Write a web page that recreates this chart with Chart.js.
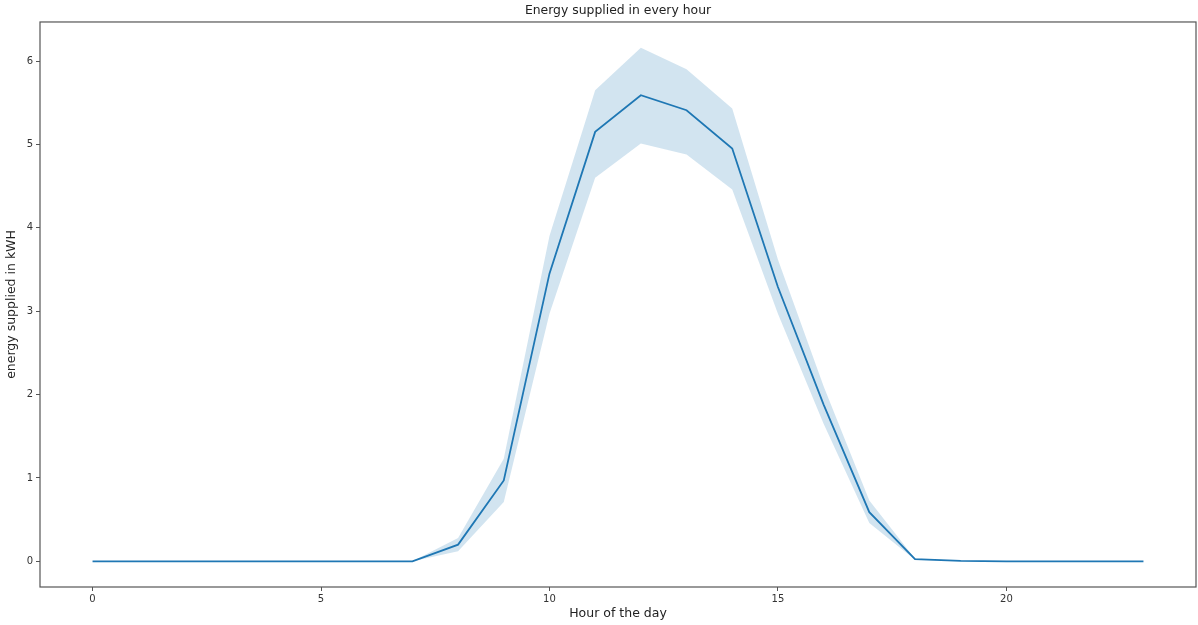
<!DOCTYPE html>
<html>
<head>
<meta charset="utf-8">
<title>Energy supplied in every hour</title>
<script src="https://cdn.jsdelivr.net/npm/chart.js@4.4.1/dist/chart.umd.min.js"></script>
<style>
  html, body { margin: 0; padding: 0; background: #fff; }
  #wrap { width: 1198px; height: 625px; }
</style>
</head>
<body>
<div id="wrap"><canvas id="chart" width="1198" height="625"></canvas></div>
<script>
// hourly mean energy with its confidence band (upper / lower)
const hours = [0, 1, 2, 3, 4, 5, 6, 7, 8, 9, 10, 11, 12, 13, 14, 15, 16, 17, 18, 19, 20, 21, 22, 23];
const meanKwh = [0, 0, 0, 0, 0, 0, 0, 0, 0.20, 0.97, 3.45, 5.15, 5.59, 5.41, 4.95, 3.29, 1.88, 0.59, 0.025, 0.005, 0, 0, 0, 0];
const upperKwh = [0, 0, 0, 0, 0, 0, 0, 0, 0.28, 1.23, 3.90, 5.65, 6.16, 5.90, 5.43, 3.62, 2.10, 0.73, 0.03, 0.007, 0, 0, 0, 0];
const lowerKwh = [0, 0, 0, 0, 0, 0, 0, 0, 0.12, 0.71, 2.97, 4.60, 5.01, 4.88, 4.46, 2.97, 1.65, 0.46, 0.02, 0.003, 0, 0, 0, 0];
const xTicks = [0, 5, 10, 15, 20];
const yTicks = [0, 1, 2, 3, 4, 5, 6];

const LINE = "#1f77b4";
const BAND = "rgba(31, 119, 180, 0.2)";
const FONT = "'DejaVu Sans', sans-serif";

const pts = (ys) => hours.map((h, i) => ({ x: h, y: ys[i] }));

// box frame around the plot area (all four spines)
const frame = {
  id: "frame",
  afterDraw(chart) {
    const { ctx, chartArea: a } = chart;
    ctx.save();
    ctx.strokeStyle = "#555";
    ctx.lineWidth = 1.2;
    ctx.strokeRect(a.left, a.top, a.right - a.left, a.bottom - a.top);
    ctx.restore();
  },
};

new Chart(document.getElementById("chart"), {
  type: "line",
  data: {
    datasets: [
      { data: pts(upperKwh), borderWidth: 0, pointRadius: 0, backgroundColor: BAND, fill: "+1" },
      { data: pts(lowerKwh), borderWidth: 0, pointRadius: 0, fill: false },
      { data: pts(meanKwh), borderColor: LINE, borderWidth: 1.8, pointRadius: 0, fill: false },
    ],
  },
  options: {
    responsive: false,
    animation: false,
    layout: { padding: { right: 2 } },
    plugins: {
      legend: { display: false },
      tooltip: { enabled: false },
      title: {
        display: true,
        text: "Energy supplied in every hour",
        fullSize: false,
        color: "#222",
        font: { family: FONT, size: 12.4, weight: "normal", lineHeight: 1.2 },
        padding: { top: 3, bottom: 4.1 },
      },
    },
    scales: {
      x: {
        type: "linear",
        min: -1.15,
        max: 24.15,
        afterBuildTicks: (s) => { s.ticks = xTicks.map((v) => ({ value: v })); },
        afterFit: (s) => { s.height = 38; },
        border: { display: false },
        grid: { drawOnChartArea: false, drawTicks: true, tickLength: 4, color: "#555" },
        ticks: { color: "#333", padding: 2, font: { family: FONT, size: 10 } },
        title: {
          display: true,
          text: "Hour of the day",
          color: "#222",
          font: { family: FONT, size: 12.5 },
          padding: { top: 0, bottom: 4 },
        },
      },
      y: {
        type: "linear",
        min: -0.308,
        max: 6.468,
        afterBuildTicks: (s) => { s.ticks = yTicks.map((v) => ({ value: v })); },
        afterFit: (s) => { s.width = 40; },
        border: { display: false },
        grid: { drawOnChartArea: false, drawTicks: true, tickLength: 4, color: "#555" },
        ticks: { color: "#333", padding: 3, font: { family: FONT, size: 10 } },
        title: {
          display: true,
          text: "energy supplied in kWH",
          color: "#222",
          font: { family: FONT, size: 12.5 },
          padding: { top: 4, bottom: 0 },
        },
      },
    },
  },
  plugins: [frame],
});
</script>
</body>
</html>
